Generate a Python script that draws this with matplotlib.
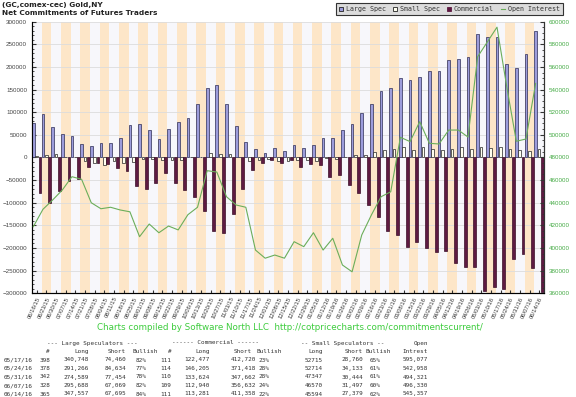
import numpy as np
import matplotlib.pyplot as plt
from matplotlib.lines import Line2D

# weekly report dates (x axis)
dates = ["06/16/15", "06/23/15", "06/30/15", "07/07/15", "07/14/15", "07/21/15", "07/28/15",
         "08/04/15", "08/11/15", "08/18/15", "08/25/15", "09/01/15", "09/08/15", "09/15/15",
         "09/22/15", "09/29/15", "10/06/15", "10/13/15", "10/20/15", "10/27/15", "11/03/15",
         "11/10/15", "11/17/15", "11/24/15", "12/01/15", "12/08/15", "12/15/15", "12/22/15",
         "12/29/15", "01/05/16", "01/12/16", "01/19/16", "01/26/16", "02/02/16", "02/09/16",
         "02/16/16", "02/23/16", "03/01/16", "03/08/16", "03/15/16", "03/22/16", "03/29/16",
         "04/05/16", "04/12/16", "04/19/16", "04/26/16", "05/03/16", "05/10/16", "05/17/16",
         "05/24/16", "05/31/16", "06/07/16", "06/14/16"]

# net positions, thousands of contracts
large_spec = [75, 95.6, 67.6, 51.4, 47, 29.4, 25, 30.9, 32.3, 42.6, 72, 73.5, 60.3, 41, 63, 78, 88,
              117.7, 153, 159, 117.7, 69, 35, 17.7, 10, 20.5, 14.6, 26.5, 20.5, 26.5, 44, 44, 60,
              73.5, 98.5, 119, 145.7, 153, 175, 170.7, 178, 191, 191, 214.8, 217.7, 222, 272, 265,
              266.3, 206.6, 197.1, 228.6, 279.9]
small_spec = [3, 6, 7.4, 1.6, 1.6, -7.4, -12, -16.1, -8.7, -13, -9, -4.5, -2.9, -6, -5.6, -6, 0,
              0.3, 10, 7.5, 7.3, 1.7, -7, -5.7, -4, -7.5, -8.6, -5.9, -5.7, -8.8, -1.2, -4.3, 0.5,
              4.5, 6.1, 12, 17.3, 19, 22, 16.3, 22, 18, 16.6, 19.2, 23.8, 19.5, 24, 20.7,
              24.0, 18.6, 16.9, 15.1, 18.2]
commercial = [-78, -101.6, -75, -53, -48.6, -22, -13, -14.8, -23.6, -29.6, -63, -69, -57.4, -35,
              -57.4, -72, -88, -118, -163, -166.5, -125, -70.7, -28, -12, -6, -13, -6, -20.6,
              -14.8, -17.7, -42.8, -39.7, -60.5, -78, -104.6, -131, -163, -172, -197, -187, -200,
              -209, -207.6, -234, -241.5, -241.5, -296, -285.7, -290.2, -225.2, -214.0, -243.7,
              -298.1]
open_interest = [418.8, 434.2, 442.4, 451.2, 463, 460.7, 440, 434.7, 436, 433.6, 432, 410, 421.2,
                 413.5, 419.4, 416, 429.4, 436, 468.3, 467.1, 445.3, 438, 436, 398.2, 391, 393.8,
                 391, 405.6, 401.2, 413.5, 398.2, 408.6, 385, 379, 411.5, 429.2, 445.3, 449.7,
                 497.8, 494, 511.6, 492.5, 491.9, 504.2, 504.2, 498, 569, 582, 595.1, 543.0,
                 494.3, 496.3, 545.4]

# table under the chart
tbl_dates = ["05/17/16", "05/24/16", "05/31/16", "06/07/16", "06/14/16"]
ls_num = [398, 378, 342, 328, 365]
ls_long = [340748, 291266, 274589, 295688, 347557]
ls_short = [74460, 84634, 77454, 67069, 67695]
ls_bull = [82, 77, 78, 82, 84]
cm_num = [111, 114, 110, 109, 111]
cm_long = [122477, 146205, 133624, 112940, 113281]
cm_short = [412720, 371418, 347662, 356632, 411358]
cm_bull = [23, 28, 28, 24, 22]
ss_long = [52715, 52714, 47347, 46570, 45594]
ss_short = [28760, 34133, 30444, 31497, 27379]
ss_bull = [65, 61, 61, 60, 62]
oi_tbl = [595077, 542958, 494321, 496330, 545357]

W, H = 576, 397
fig = plt.figure(figsize=(W / 100, H / 100), dpi=100)
fig.patch.set_facecolor("white")
ax = fig.add_axes([32 / W, 1 - 293.3 / H, 512 / W, (293.3 - 21.6) / H])

x = np.arange(len(dates))
for i in x:
    ax.axvspan(i, i + 1, color="#FDE6C8" if i % 2 else "#F7F7FB", lw=0, zorder=0)

ax.bar(x + 0.134, np.array(large_spec) * 1000, width=0.28, color="#9C9CDB",
       edgecolor="#2B2B55", lw=0.5, zorder=3)
ax.bar(x + 0.486, np.array(small_spec) * 1000, width=0.28, color="#FFFFF0",
       edgecolor="#222222", lw=0.5, zorder=3)
ax.bar(x + 0.83, np.array(commercial) * 1000, width=0.3, color="#5E1A42",
       edgecolor="#3A0F28", lw=0.5, zorder=3)

ax.set_xlim(0, len(dates))
ax.set_ylim(-300000, 300000)
ax.set_yticks(np.arange(-300000, 300001, 50000))
ax.set_yticks(np.arange(-300000, 300001, 10000), minor=True)
ax.yaxis.grid(True, color="#DCDCDC", lw=0.6)
ax.set_axisbelow(True)
ax.tick_params(axis="y", which="both", direction="in", labelsize=4.5, colors="#333333",
               labelcolor="#444444")
ax.tick_params(axis="y", which="major", length=3)
ax.tick_params(axis="y", which="minor", length=1.5)
ax.set_xticks(x + 0.5)
ax.set_xticklabels(dates, rotation=65, ha="right", rotation_mode="anchor",
                   fontsize=4.2, color="#444444", family="Liberation Sans")
ax.tick_params(axis="x", direction="in", length=2.5, pad=2, colors="#333333")
for lab in ax.get_yticklabels():
    lab.set_family("Liberation Sans")
for s in ["left", "right", "bottom"]:
    ax.spines[s].set_color("#333333")
    ax.spines[s].set_linewidth(0.8)
ax.spines["top"].set_visible(False)

ax2 = ax.twinx()
ax2.plot(x + 0.134, np.array(open_interest) * 1000, color="#6BAE5A", lw=0.8, zorder=4)
ax2.set_ylim(360000, 600000)
ax2.set_yticks(np.arange(360000, 600001, 20000))
ax2.set_yticks(np.arange(360000, 600001, 5000), minor=True)
ax2.tick_params(axis="y", which="both", direction="in", labelsize=4.5, colors="#333333",
                labelcolor="#44AA44")
ax2.tick_params(axis="y", which="major", length=3)
ax2.tick_params(axis="y", which="minor", length=1.5)
for lab in ax2.get_yticklabels():
    lab.set_family("Liberation Sans")
ax2.spines["top"].set_visible(False)
ax2.spines["right"].set_color("#333333")
ax2.spines["right"].set_linewidth(0.8)

fig.text(2 / W, 1 - 5 / H, "(GC,comex-cec) Gold,NY", fontsize=5.3, fontweight="bold",
         va="center", color="#222222")
fig.text(2 / W, 1 - 13 / H, "Net Commitments of Futures Traders", fontsize=5.3,
         fontweight="bold", va="center", color="#222222")

handles = [
    Line2D([], [], ls="", marker="s", ms=3.3, mfc="#9C9CDB", mec="#222222", mew=0.6),
    Line2D([], [], ls="", marker="s", ms=3.3, mfc="#FFFFF0", mec="#222222", mew=0.6),
    Line2D([], [], ls="", marker="s", ms=3.3, mfc="#5E1A42", mec="#5E1A42", mew=0.6),
    Line2D([], [], color="#6BAE5A", lw=0.8),
]
leg = fig.legend(handles, ["Large Spec", "Small Spec", "Commercial", "Open Interest"],
                 loc="upper right", bbox_to_anchor=(566 / W, 1.0), ncol=4,
                 prop=dict(family="DejaVu Sans Mono", size=4.8), handlelength=0.7,
                 handletextpad=0.4, columnspacing=1.0, borderpad=0.4, fancybox=False,
                 edgecolor="#333333", facecolor="#DCDCDC", framealpha=1)
leg.get_frame().set_linewidth(0.8)
for t in leg.get_texts():
    t.set_color("#333333")

fig.text(290 / W, 1 - 327 / H,
         "Charts compiled by Software North LLC  http://cotpricecharts.com/commitmentscurrent/",
         fontsize=6.3, color="#3DCC3D", ha="center", va="center")

mono = dict(family="DejaVu Sans Mono", fontsize=4.3, color="#333333", va="center")
y_h1, y_h2, y0, dy = 343, 351.5, 360, 8.5

fig.text(92 / W, 1 - y_h1 / H, "--- Large Speculators ---", ha="center", **mono)
fig.text(216 / W, 1 - y_h1 / H, "------ Commercial ------", ha="center", **mono)
fig.text(343 / W, 1 - y_h1 / H, "-- Small Speculators --", ha="center", **mono)
fig.text(428 / W, 1 - y_h1 / H, "Open", ha="right", **mono)

header2 = [("#", 50), ("Long", 88.6), ("Short", 126), ("Bullish", 158), ("#", 171.6),
           ("Long", 209.6), ("Short", 251.5), ("Bullish", 282), ("Long", 323),
           ("Short", 362.5), ("Bullish", 391), ("Intrest", 428)]
for txt, xr in header2:
    fig.text(xr / W, 1 - y_h2 / H, txt, ha="right", **mono)

columns = [
    ([str(v) for v in ls_num], 50),
    ([f"{v:,}" for v in ls_long], 88.6),
    ([f"{v:,}" for v in ls_short], 126.6),
    ([f"{v}%" for v in ls_bull], 146),
    ([str(v) for v in cm_num], 171.6),
    ([f"{v:,}" for v in cm_long], 209.6),
    ([f"{v:,}" for v in cm_short], 255.7),
    ([f"{v}%" for v in cm_bull], 269.4),
    ([str(v) for v in ss_long], 323.2),
    ([f"{v:,}" for v in ss_short], 363.5),
    ([f"{v}%" for v in ss_bull], 380),
    ([f"{v:,}" for v in oi_tbl], 428),
]
for r, d in enumerate(tbl_dates):
    yy = 1 - (y0 + r * dy) / H
    fig.text(3.7 / W, yy, d, ha="left", **mono)
    for vals, xr in columns:
        fig.text(xr / W, yy, vals[r], ha="right", **mono)

fig.savefig("out.png", dpi=100)
